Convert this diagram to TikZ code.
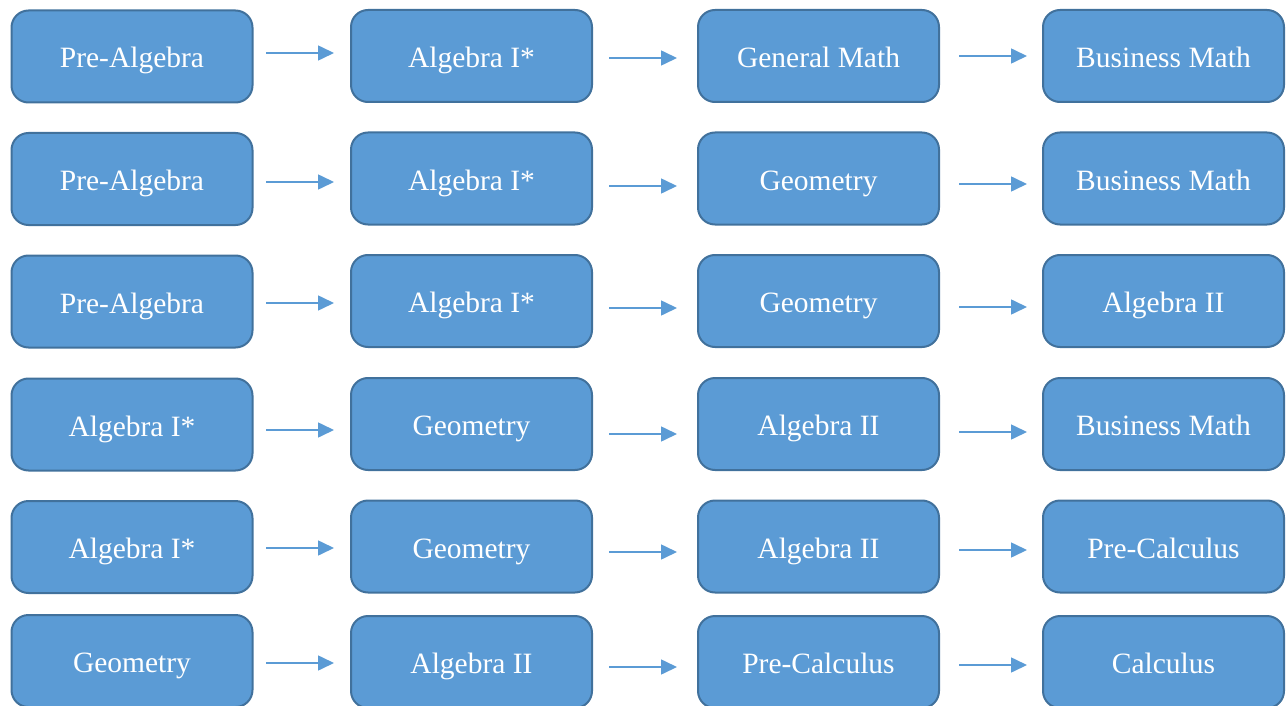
\documentclass[tikz,border=0pt]{standalone}
\usepackage{fontspec}
\setmainfont{Liberation Serif}
\usetikzlibrary{arrows.meta}
\definecolor{boxfill}{HTML}{5B9BD5}
\definecolor{boxline}{HTML}{41719C}
\begin{document}
\begin{tikzpicture}[x=1pt,y=-1pt,
  course/.style={draw=boxline, fill=boxfill, line width=2pt, rounded corners=17pt,
    minimum width=241pt, minimum height=92pt, inner sep=0pt,
    text=white, font=\fontsize{29.5}{31}\selectfont, text height=23pt, text depth=0pt},
  arr/.style={draw=boxfill, line width=1.6pt, -{Triangle[length=16pt,width=15pt]}}]
\useasboundingbox (0,0) rectangle (1288,706);
\def\cA{132}\def\cB{471.5}\def\cC{818.5}\def\cD{1163.5}
% row 1
\node[course] (r1a) at (\cA,56.5) {Pre-Algebra};
\node[course] (r1b) at (\cB,56) {Algebra I*};
\node[course] (r1c) at (\cC,56) {General Math};
\node[course] (r1d) at (\cD,56) {Business Math};
% row 2
\node[course] (r2a) at (\cA,179) {Pre-Algebra};
\node[course] (r2b) at (\cB,178.5) {Algebra I*};
\node[course] (r2c) at (\cC,178.5) {Geometry};
\node[course] (r2d) at (\cD,178.5) {Business Math};
% row 3
\node[course] (r3a) at (\cA,301.5) {Pre-Algebra};
\node[course] (r3b) at (\cB,301) {Algebra I*};
\node[course] (r3c) at (\cC,301) {Geometry};
\node[course] (r3d) at (\cD,301) {Algebra II};
% row 4
\node[course] (r4a) at (\cA,424.5) {Algebra I*};
\node[course] (r4b) at (\cB,424) {Geometry};
\node[course] (r4c) at (\cC,424) {Algebra II};
\node[course] (r4d) at (\cD,424) {Business Math};
% row 5
\node[course] (r5a) at (\cA,547) {Algebra I*};
\node[course] (r5b) at (\cB,546.5) {Geometry};
\node[course] (r5c) at (\cC,546.5) {Algebra II};
\node[course] (r5d) at (\cD,546.5) {Pre-Calculus};
% row 6
\node[course] (r6a) at (\cA,661) {Geometry};
\node[course] (r6b) at (\cB,662) {Algebra II};
\node[course] (r6c) at (\cC,662) {Pre-Calculus};
\node[course] (r6d) at (\cD,662) {Calculus};
% arrows
\foreach \r/\ya/\yb/\yc in {1/53/58/56, 2/182/186/184, 3/303/308/307, 4/430/434/432, 5/548/552/550, 6/663/667/665}{
  \coordinate (s\r a) at (266,\ya); \coordinate (e\r a) at (334,\ya);
  \coordinate (s\r b) at (609,\yb); \coordinate (e\r b) at (677,\yb);
  \coordinate (s\r c) at (959,\yc); \coordinate (e\r c) at (1027,\yc);
  \draw[arr] (s\r a) -- (e\r a);
  \draw[arr] (s\r b) -- (e\r b);
  \draw[arr] (s\r c) -- (e\r c);
}
\end{tikzpicture}
\end{document}
